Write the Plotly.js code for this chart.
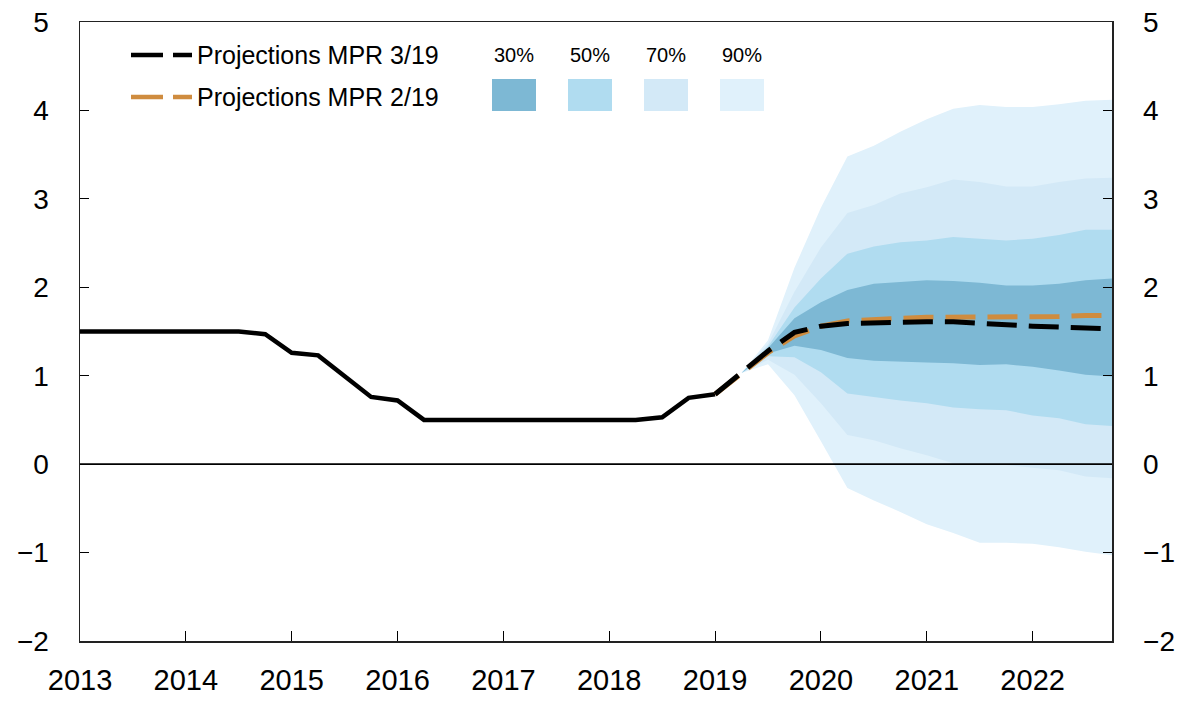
<!DOCTYPE html>
<html>
<head>
<meta charset="utf-8">
<script src="https://cdn.plot.ly/plotly-3.0.1.min.js"></script>
<style>html,body{margin:0;padding:0;background:#fff;}#chart{width:1181px;height:701px;}</style>
</head>
<body>
<div id="chart"></div>
<script>
// ---- Data ----
const histX = [2013.0,2013.25,2013.5,2013.75,2014.0,2014.25,2014.5,2014.75,2015.0,2015.25,2015.5,2015.75,2016.0,2016.25,2016.5,2016.75,2017.0,2017.25,2017.5,2017.75,2018.0,2018.25,2018.5,2018.75,2019.0];
const histY = [1.5,1.5,1.5,1.5,1.5,1.5,1.5,1.47,1.26,1.23,0.99,0.76,0.72,0.5,0.5,0.5,0.5,0.5,0.5,0.5,0.5,0.5,0.53,0.75,0.79];

const projX = [2019.0,2019.25,2019.5,2019.75,2020.0,2020.25,2020.5,2020.75,2021.0,2021.25,2021.5,2021.75,2022.0,2022.25,2022.5,2022.75];
const mpr319 = [0.79,1.03,1.28,1.49,1.56,1.59,1.60,1.61,1.61,1.61,1.59,1.57,1.56,1.55,1.54,1.53];
const mpr219 = [0.79,1.02,1.26,1.45,1.56,1.62,1.64,1.65,1.66,1.66,1.67,1.67,1.67,1.67,1.68,1.68];

const fanX = [2019.25,2019.5,2019.75,2020.0,2020.25,2020.5,2020.75,2021.0,2021.25,2021.5,2021.75,2022.0,2022.25,2022.5,2022.75];
const upper90 = [1.03,1.40,2.22,2.90,3.48,3.60,3.76,3.90,4.02,4.06,4.04,4.04,4.07,4.11,4.12];
const upper70 = [1.03,1.36,1.95,2.45,2.84,2.93,3.06,3.13,3.22,3.19,3.14,3.14,3.19,3.23,3.24];
const upper50 = [1.03,1.33,1.77,2.10,2.38,2.46,2.51,2.53,2.57,2.55,2.53,2.55,2.59,2.65,2.65];
const upper30 = [1.03,1.31,1.65,1.83,1.97,2.04,2.06,2.08,2.07,2.05,2.02,2.02,2.04,2.08,2.10];
const lower30 = [1.03,1.25,1.34,1.29,1.20,1.17,1.16,1.15,1.14,1.12,1.13,1.10,1.06,1.01,0.99];
const lower50 = [1.03,1.22,1.21,1.04,0.80,0.76,0.72,0.69,0.64,0.62,0.61,0.55,0.52,0.45,0.43];
const lower70 = [1.03,1.18,1.01,0.69,0.33,0.27,0.18,0.10,0.01,-0.01,-0.01,-0.04,-0.07,-0.14,-0.16];
const lower90 = [1.03,1.13,0.78,0.26,-0.27,-0.41,-0.54,-0.68,-0.78,-0.89,-0.89,-0.90,-0.94,-0.99,-1.03];

const bandNames = ["90%","70%","50%","30%"];
const lineNames = ["Projections MPR 3/19","Projections MPR 2/19"];
const yearTicks = [2013,2014,2015,2016,2017,2018,2019,2020,2021,2022];
const yTicks = [-2,-1,0,1,2,3,4,5];

// ---- Styles ----
const bandColors = {"90%":"#e0f1fb","70%":"#d3e9f7","50%":"#b0dcf0","30%":"#7db8d4"};
const orange = "#cf8c3f";
const FONT = "Liberation Sans, Arial, Helvetica, sans-serif";

function band(up, lo, name){
  return {
    x: fanX.concat(fanX.slice().reverse()),
    y: up.concat(lo.slice().reverse()),
    type:"scatter", mode:"lines", fill:"toself",
    fillcolor: bandColors[name], line:{width:0, color:bandColors[name]},
    hoverinfo:"skip", showlegend:false, name:name
  };
}

const traces = [
  band(upper90, lower90, "90%"),
  band(upper70, lower70, "70%"),
  band(upper50, lower50, "50%"),
  band(upper30, lower30, "30%"),
  {x:histX, y:histY, type:"scatter", mode:"lines", line:{color:"#000", width:4.5}, showlegend:false, hoverinfo:"skip"},
  {x:projX, y:mpr219, type:"scatter", mode:"lines", line:{color:orange, width:5, dash:"30px,12px"}, showlegend:false, name:lineNames[1]},
  {x:projX, y:mpr319, type:"scatter", mode:"lines", line:{color:"#000", width:5, dash:"30px,12px"}, showlegend:false, name:lineNames[0]},
  {x:[2013], y:[0], yaxis:"y2", type:"scatter", mode:"lines", line:{width:0}, showlegend:false, hoverinfo:"skip"}
];

// plot area in pixels
const L=80, R=1112, T=22, B=641;
const px = v => (v-L)/(R-L);
const py = v => (B-v)/(B-T);

const shapes = [];
const annotations = [];
// zero line above the fan
shapes.push({type:"line", xref:"paper", yref:"y", x0:0, x1:1, y0:0, y1:0, layer:"above",
  line:{color:"#000", width:1.6}});
// legend lines
const legLineY = [55, 97];
const legColors = ["#000", orange];
legLineY.forEach((yy,i)=>{
  shapes.push({type:"line", xref:"paper", yref:"paper", x0:px(131), x1:px(192), y0:py(yy), y1:py(yy),
    line:{color:legColors[i], width:4.5, dash:"32px,10px"}});
  annotations.push({xref:"paper", yref:"paper", x:px(195), y:py(yy), text:lineNames[i], showarrow:false,
    xanchor:"left", yanchor:"middle", font:{family:FONT, size:25, color:"#000"}});
});
// band legend boxes
const boxLeft = [492,568,644,720];
["30%","50%","70%","90%"].forEach((n,i)=>{
  shapes.push({type:"rect", xref:"paper", yref:"paper", x0:px(boxLeft[i]), x1:px(boxLeft[i]+44), y0:py(111), y1:py(79),
    fillcolor:bandColors[n], line:{width:0}});
  annotations.push({xref:"paper", yref:"paper", x:px(boxLeft[i]+22), y:py(55), text:n, showarrow:false,
    xanchor:"center", yanchor:"middle", font:{family:FONT, size:20, color:"#000"}});
});

const layout = {
  width:1181, height:701,
  margin:{l:L, r:1181-R, t:T, b:701-B, pad:0},
  paper_bgcolor:"#fff", plot_bgcolor:"#fff",
  showlegend:false,
  font:{family:FONT, color:"#000"},
  xaxis:{range:[2013,2022.75], tickvals:yearTicks, ticktext:yearTicks.map(String),
    ticks:"inside", ticklen:10, tickwidth:1, tickcolor:"#000",
    showline:true, linecolor:"#222", linewidth:1.5, mirror:true, showgrid:false, zeroline:false,
    tickfont:{family:FONT, size:29, color:"#000"}, ticklabelstandoff:13},
  yaxis:{range:[-2,5], tickvals:yTicks, ticks:"inside", ticklen:9, tickwidth:1, tickcolor:"#000",
    showline:true, linecolor:"#222", linewidth:1.5, showgrid:false, zeroline:false,
    tickfont:{family:FONT, size:28, color:"#000"}, ticklabelstandoff:24},
  yaxis2:{range:[-2,5], tickvals:yTicks, overlaying:"y", side:"right", matches:"y",
    ticks:"inside", ticklen:9, tickwidth:1, tickcolor:"#000",
    showline:true, linecolor:"#222", linewidth:1.5, showgrid:false, zeroline:false,
    tickfont:{family:FONT, size:28, color:"#000"}, ticklabelstandoff:24},
  shapes:shapes, annotations:annotations
};

Plotly.newPlot("chart", traces, layout, {staticPlot:true, displayModeBar:false});
</script>
</body>
</html>
